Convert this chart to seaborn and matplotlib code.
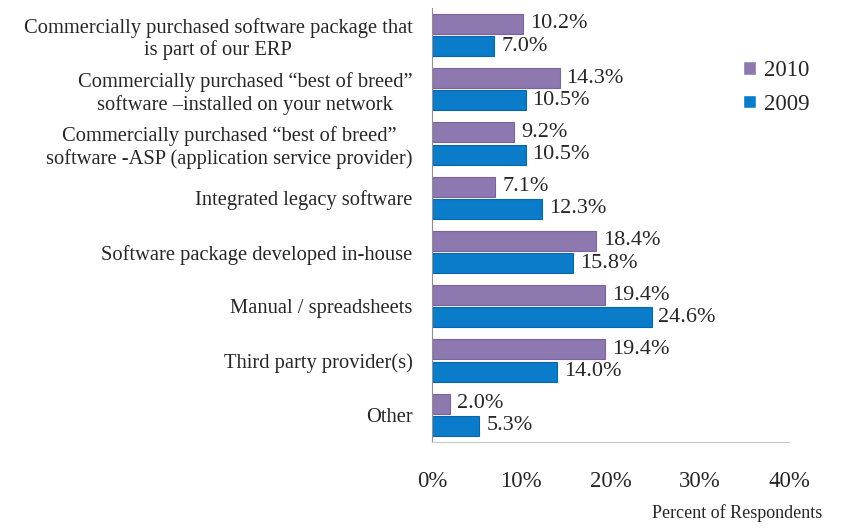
import pandas as pd
import numpy as np
import matplotlib
matplotlib.use('Agg')
import matplotlib.pyplot as plt
import seaborn as sns
from matplotlib.ticker import FixedLocator

# ===============================
# Data
# ===============================
categories = [
    'Commercially purchased software package that\nis part of our ERP',
    'Commercially purchased \u201cbest of breed\u201d\nsoftware \u2013installed on your network',
    'Commercially purchased \u201cbest of breed\u201d\nsoftware -ASP (application service provider)',
    'Integrated legacy software',
    'Software package developed in-house',
    'Manual / spreadsheets',
    'Third party provider(s)',
    'Other',
]
values_2010 = [10.2, 14.3, 9.2, 7.1, 18.4, 19.4, 19.4, 2.0]
values_2009 = [7.0, 10.5, 10.5, 12.3, 15.8, 24.6, 14.0, 5.3]
years = ['2010', '2009']
x_ticks = [0, 10, 20, 30, 40]

df = pd.DataFrame({
    'category': categories * 2,
    'value': values_2010 + values_2009,
    'year': ['2010'] * len(categories) + ['2009'] * len(categories),
})

sns.set_style('white')
plt.rcParams['font.family'] = ['Liberation Serif', 'DejaVu Serif']

palette = {'2010': '#8E78B0', '2009': '#0A7CC9'}
edges = {'2010': '#7A64A0', '2009': '#0A66A8'}

fig = plt.figure(figsize=(8.42, 5.28), dpi=100)
ax = fig.add_axes([0.513, 0.163, 0.424, 0.822])

sns.barplot(data=df, y='category', x='value', hue='year', hue_order=years,
            palette=palette, saturation=1, orient='h', width=0.82, gap=0.1,
            ax=ax, order=categories)

for container, yr in zip(ax.containers, years):
    for patch in container:
        patch.set_edgecolor(edges[yr])
        patch.set_linewidth(0.8)
    ax.bar_label(container, labels=[f'{v:.1f}%' for v in container.datavalues],
                 padding=5, fontsize=16)

ax.set_xlim(0, 40)
ax.set_xticks(x_ticks)
ax.set_xticklabels([f'{t}%' for t in x_ticks], fontsize=16.5)
ax.tick_params(axis='x', length=6, color='#B0B0B0', pad=15)
ax.set_ylim(len(categories) - 0.5, -0.5)
ax.tick_params(axis='y', which='major', length=0, pad=14, labelsize=14.8)
ax.yaxis.set_minor_locator(FixedLocator(np.arange(-0.5, len(categories), 1)))
ax.tick_params(axis='y', which='minor', length=5, color='#909090')
for lbl in ax.get_yticklabels():
    lbl.set_horizontalalignment('right')
    lbl.set_multialignment('center')

ax.set_xlabel('')
ax.set_ylabel('')
for s in ['top', 'right']:
    ax.spines[s].set_visible(False)
ax.spines['left'].set_color('#909090')
ax.spines['bottom'].set_color('#C8C8C8')

fig.text(0.977, 0.012, 'Percent of Respondents', ha='right', va='bottom', fontsize=13)

ax.legend(loc='upper left', bbox_to_anchor=(743 / 842, 1 - 60 / 528),
          bbox_transform=fig.transFigure, frameon=False, borderpad=0,
          borderaxespad=0, fontsize=16.5, handlelength=0.55, handleheight=0.55,
          handletextpad=0.35, labelspacing=0.55)

fig.savefig('out.png', dpi=100)
